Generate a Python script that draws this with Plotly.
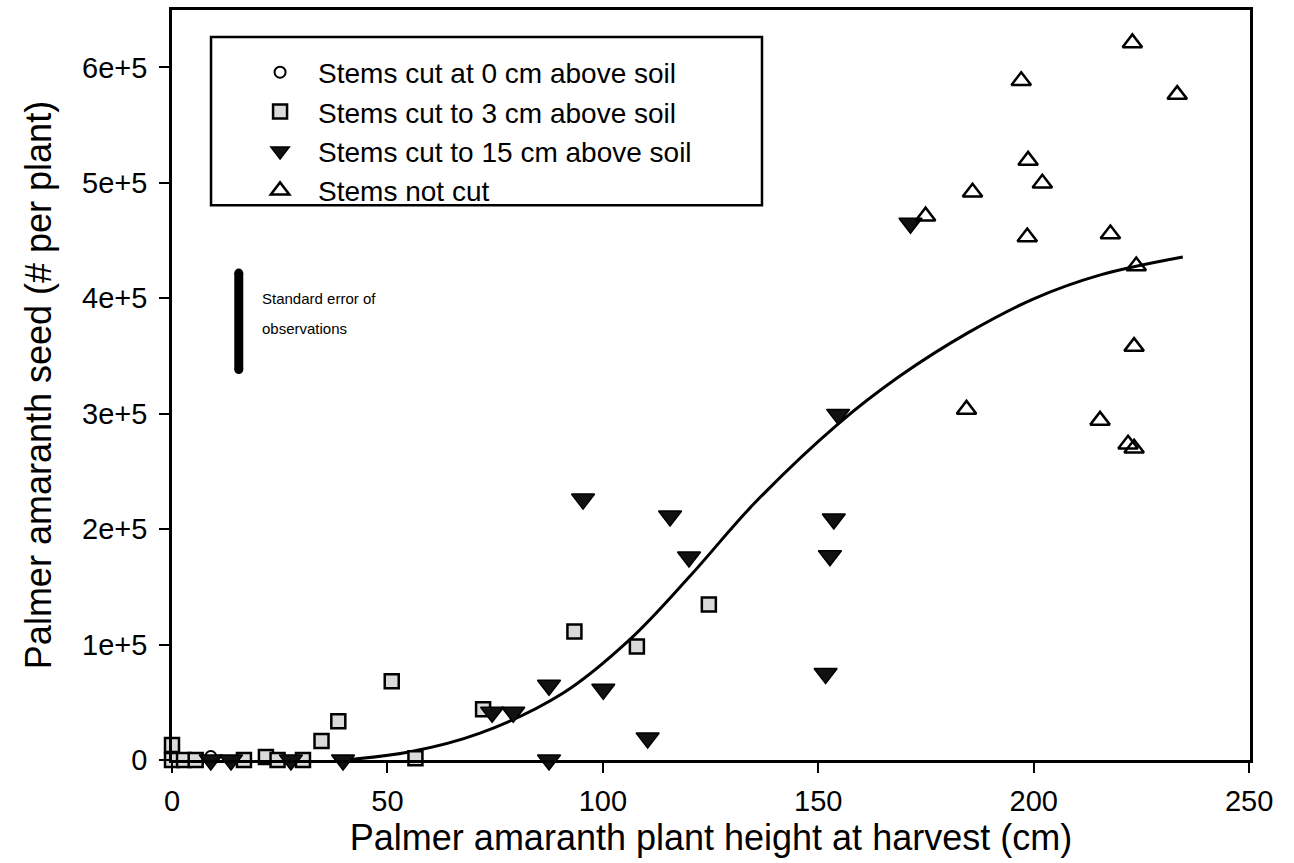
import plotly.graph_objects as go

# ---- data ----
cut0_x = [0.5, 9.0]
cut0_y = [0, 3000]

cut3_x = [0, 0, 2.8, 5.5, 16.7, 21.8, 24.5, 30.4, 34.7, 38.6, 51.0, 56.5, 72.2, 93.4, 107.9, 124.6]
cut3_y = [12900, 0, 0, 0, 0, 2600, 0, 0, 16400, 33500, 68200, 1500, 44000, 111300, 98400, 134600]

cut15_x = [9.0, 13.7, 27.6, 39.7, 74.3, 79.2, 87.5, 87.5, 100.1, 110.4, 95.4, 115.6, 120.0,
           151.7, 152.7, 153.6, 154.6, 171.4]
cut15_y = [0, 0, 0, 0, 41400, 41400, 64700, 0, 61200, 19000, 226000, 211400, 175800,
           75000, 176900, 208800, 299400, 465000]

notcut_x = [222.9, 233.3, 197.1, 198.7, 202.0, 185.8, 174.9, 198.5, 217.8, 223.8, 223.3,
            184.4, 215.4, 221.9, 223.3]
notcut_y = [621200, 576400, 588400, 519400, 499600, 491800, 471100, 453000, 455600, 428000,
            358100, 303700, 294200, 273500, 270100]

fit_x = [40, 55, 71.5, 90.7, 106.3, 120.4, 135, 154.5, 169.1, 184.7, 200, 215.5, 234.6]
fit_y = [0, 6900, 23300, 57800, 104500, 160000, 221700, 290800, 333000, 370000, 399500,
         420200, 435700]

se_x = 15.5
se_center = 380000
se_half = 41800

x_ticks = [0, 50, 100, 150, 200, 250]
y_ticks = [0, 100000, 200000, 300000, 400000, 500000, 600000]
y_ticktext = ["0", "1e+5", "2e+5", "3e+5", "4e+5", "5e+5", "6e+5"]

FONT = "Liberation Sans, Arial, Helvetica, sans-serif"

fig = go.Figure()

fig.add_trace(go.Scatter(x=fit_x, y=fit_y, mode="lines",
                         line=dict(color="black", width=3, shape="spline", smoothing=1.0),
                         showlegend=False, hoverinfo="skip", cliponaxis=False))

fig.add_trace(go.Scatter(x=cut0_x, y=cut0_y, mode="markers", name="Stems cut at 0 cm above soil",
                         marker=dict(symbol="circle", size=11, color="white",
                                     line=dict(color="black", width=2)),
                         cliponaxis=False, legendrank=1))
fig.add_trace(go.Scatter(x=cut3_x, y=cut3_y, mode="markers", name="Stems cut to 3 cm above soil",
                         marker=dict(symbol="square", size=14, color="#dadada",
                                     line=dict(color="black", width=2.5)),
                         cliponaxis=False, legendrank=2))
fig.add_trace(go.Scatter(x=cut15_x, y=cut15_y, mode="markers", name="Stems cut to 15 cm above soil",
                         marker=dict(symbol="triangle-down", size=20, color="#111111",
                                     line=dict(color="black", width=1.5)),
                         cliponaxis=False, legendrank=3))
fig.add_trace(go.Scatter(x=notcut_x, y=notcut_y, mode="markers", name="Stems not cut",
                         marker=dict(symbol="triangle-up-open", size=17, color="black",
                                     line=dict(color="black", width=2.5)),
                         cliponaxis=False, legendrank=4))

# standard error bar
fig.add_trace(go.Scatter(x=[se_x, se_x], y=[se_center - se_half, se_center + se_half],
                         mode="lines+markers", line=dict(color="black", width=9),
                         marker=dict(symbol="circle", size=9, color="black"),
                         showlegend=False, hoverinfo="skip"))

# legend frame
fig.add_shape(type="rect", xref="paper", yref="paper", x0=0.0362, x1=0.5473, y0=0.7397, y1=0.9641,
              line=dict(color="black", width=2.5), fillcolor="rgba(0,0,0,0)", layer="below")

fig.add_annotation(xref="paper", yref="paper", x=0.0816, y=0.6149, xanchor="left", yanchor="middle",
                   text="Standard error of", showarrow=False, font=dict(family=FONT, size=15, color="black"))
fig.add_annotation(xref="paper", yref="paper", x=0.0816, y=0.575, xanchor="left", yanchor="middle",
                   text="observations", showarrow=False, font=dict(family=FONT, size=15, color="black"))

axis_common = dict(showline=True, mirror=True, linecolor="black", linewidth=2.5, ticks="outside",
                   ticklen=10, tickwidth=2, tickcolor="black", showgrid=False, zeroline=False,
                   tickfont=dict(family=FONT, size=29, color="black"))

fig.update_xaxes(range=[0, 250.2], tickvals=x_ticks, ticktext=[str(t) for t in x_ticks],
                 ticklabelstandoff=3,
                 title=dict(text="Palmer amaranth plant height at harvest (cm)",
                            font=dict(family=FONT, size=36, color="black"), standoff=8),
                 **axis_common)
fig.update_yaxes(range=[0, 649700], tickvals=y_ticks, ticktext=y_ticktext,
                 ticklabelstandoff=6,
                 title=dict(text="Palmer amaranth seed (# per plant)",
                            font=dict(family=FONT, size=36, color="black"), standoff=20),
                 **axis_common)

fig.update_layout(
    width=1294, height=863,
    margin=dict(l=172, r=44, t=7, b=103),
    paper_bgcolor="white", plot_bgcolor="white",
    font=dict(family=FONT, color="black"),
    legend=dict(x=0.065, y=0.950, xanchor="left", yanchor="top", bgcolor="rgba(0,0,0,0)",
                borderwidth=0, font=dict(family=FONT, size=28, color="black"),
                itemwidth=66, itemsizing="trace"),
)

fig.write_html("out.html")
